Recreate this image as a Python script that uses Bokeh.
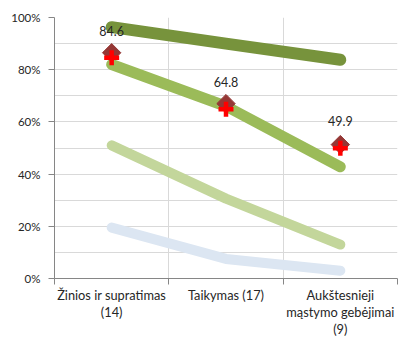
from bokeh.plotting import figure
from bokeh.models import Range1d, FixedTicker, PrintfTickFormatter, ColumnDataSource, LinearAxis
from bokeh.embed import file_html
from bokeh.resources import INLINE
from bokeh.core.properties import value

categories = [["Žinios ir supratimas", "(14)"], ["Taikymas (17)"],
              ["Aukštesnieji", "mąstymo gebėjimai", "(9)"]]
x_pos = [0.5, 1.5, 2.5]
series_dark = [96.3, 90.0, 83.8]
series_mid = [82.0, 66.0, 42.8]
series_light = [51.0, 30.6, 13.0]
series_blue = [19.5, 7.5, 3.0]
diamond_vals = [86.5, 67.0, 51.3]
cross_vals = [84.6, 64.8, 49.9]
labels = ["84.6", "64.8", "49.9"]

FONT = "Lato"
TXT = "#262626"
XFS = "12.8px"

p = figure(width=401, height=339, output_backend="svg", toolbar_location=None,
           x_range=Range1d(0, 3), y_range=Range1d(0, 100),
           min_border_left=54, min_border_right=4, min_border_top=17, min_border_bottom=0)
p.outline_line_color = None
p.background_fill_color = "white"

# grids
p.xgrid.ticker = FixedTicker(ticks=[1, 2])
p.xgrid.grid_line_color = "#D9D9D9"
p.ygrid.ticker = FixedTicker(ticks=[0, 10, 20, 30, 40, 50, 60, 70, 80, 90, 100])
p.ygrid.grid_line_color = "#D9D9D9"

# x axis: first line of the category labels, boundary ticks as minor ticks
p.xaxis.ticker = FixedTicker(ticks=x_pos, minor_ticks=[0, 1, 2, 3])
p.xaxis.major_label_overrides = {x: c[0] for x, c in zip(x_pos, categories)}
p.xaxis.major_tick_in = 0
p.xaxis.major_tick_out = 6
p.xaxis.major_tick_line_color = None
p.xaxis.minor_tick_in = 0
p.xaxis.minor_tick_out = 6
p.xaxis.minor_tick_line_color = "#868686"
p.xaxis.axis_line_color = "#868686"
p.xaxis.major_label_text_font = FONT
p.xaxis.major_label_text_font_size = XFS
p.xaxis.major_label_text_color = TXT
p.xaxis.major_label_standoff = 2

# further lines of the category labels as stacked label-only axes
for level in (1, 2):
    ticks = [x for x, c in zip(x_pos, categories) if len(c) > level]
    ax = LinearAxis(ticker=FixedTicker(ticks=ticks),
                    major_label_overrides={x: c[level] for x, c in zip(x_pos, categories) if len(c) > level},
                    axis_line_color=None, major_tick_line_color=None, minor_tick_line_color=None,
                    major_tick_in=0, major_tick_out=0, minor_tick_in=0, minor_tick_out=0,
                    major_label_standoff=-2, major_label_text_font=FONT,
                    major_label_text_font_size=XFS, major_label_text_color=TXT)
    p.add_layout(ax, "below")

# y axis
p.yaxis.ticker = FixedTicker(ticks=[0, 20, 40, 60, 80, 100])
p.yaxis.formatter = PrintfTickFormatter(format="%d%%")
p.yaxis.major_tick_in = 0
p.yaxis.major_tick_out = 6
p.yaxis.minor_tick_line_color = None
p.yaxis.major_tick_line_color = "#868686"
p.yaxis.axis_line_color = "#868686"
p.yaxis.major_label_text_font = FONT
p.yaxis.major_label_text_font_size = "11.5px"
p.yaxis.major_label_text_color = TXT
p.yaxis.major_label_standoff = 8

# lines
for vals, color, w in [(series_blue, "#DCE6F2", 10), (series_light, "#C3D69B", 10),
                       (series_mid, "#9BBB59", 11), (series_dark, "#77933C", 12)]:
    p.line(x_pos, vals, line_color=color, line_width=w, line_cap="round", line_join="round")

# markers
p.scatter(x_pos, diamond_vals, marker="square", angle=0.785398, size=13,
          fill_color="#953735", line_color="#953735")
p.scatter(x_pos, cross_vals, marker="cross", size=15, line_color="#FF0000", line_width=4.5)

src = ColumnDataSource(dict(x=x_pos, y=cross_vals, t=labels))
p.text(x="x", y="y", text="t", source=src, text_align="center", text_baseline="middle",
       y_offset=-27, text_font=value(FONT), text_font_size="12.5px", text_color=TXT)

open("out.html", "w").write(file_html(p, INLINE))
